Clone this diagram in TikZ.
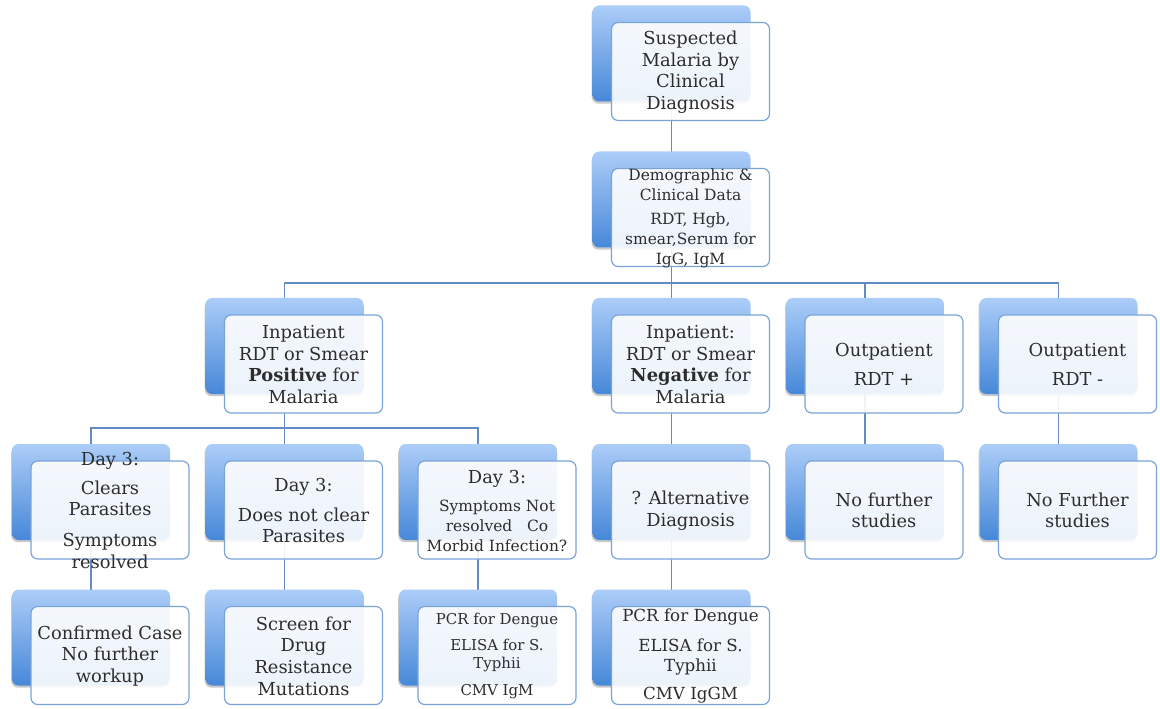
\documentclass[tikz,border=0pt]{standalone}
\usepackage{fontspec}
\setmainfont{DejaVu Serif}
\usetikzlibrary{positioning, backgrounds, shadows}
\definecolor{linkblue}{RGB}{98,138,198}
\definecolor{edgeblue}{RGB}{122,163,218}
\definecolor{toplight}{RGB}{172,205,248}
\definecolor{bottomdark}{RGB}{70,136,216}
\definecolor{inktext}{RGB}{45,45,45}
\newcommand{\cardtext}[1]{\makebox[0pt]{\raisebox{-8pt}{\parbox[c][0pt][c]{135pt}{\centering #1}}}}

\begin{document}
\begin{tikzpicture}[x=0.75pt, y=-0.75pt,
  backbox/.style={rounded corners=5pt, minimum width=118.5pt, minimum height=72pt, inner sep=0pt,
    top color=toplight, bottom color=bottomdark,
    drop shadow={shadow xshift=-0.6pt, shadow yshift=-1.6pt, opacity=0.35, fill=black!60}},
  frontbox/.style={rounded corners=5pt, minimum width=118.5pt, minimum height=73.5pt, inner sep=0pt,
    draw=edgeblue, line width=0.9pt, fill=white, fill opacity=0.9, text opacity=1, text=inktext,
    font=\fontsize{13.4}{16.2}\selectfont},
  link/.style={draw=linkblue, line width=0.9pt}]
  \useasboundingbox (0,0) rectangle (1160,709);

  % Top of the tree
  \node[backbox] (sus-b) at (671.5,53.5) {};
  \node[frontbox] (sus) at (690.5,71.5) {\cardtext{Suspected\\Malaria by\\Clinical\\Diagnosis}};
  \node[backbox] (dem-b) at (671.5,199.5) {};
  \node[frontbox] (dem) at (690.5,217.5) {\cardtext{\fontsize{11.6}{15}\selectfont Demographic \&\\Clinical Data\\[3pt]RDT, Hgb,\\smear,Serum for\\IgG, IgM}};

  % Inpatient / outpatient
  \node[backbox] (pos-b) at (284.5,346) {};
  \node[frontbox] (pos) at (303.5,364) {\cardtext{Inpatient\\RDT or Smear\\\textbf{Positive} for\\Malaria}};
  \node[backbox] (neg-b) at (671.5,346) {};
  \node[frontbox] (neg) at (690.5,364) {\cardtext{Inpatient:\\RDT or Smear\\\textbf{Negative} for\\Malaria}};
  \node[backbox] (outp-b) at (865,346) {};
  \node[frontbox] (outp) at (884,364) {\cardtext{Outpatient\\[6pt]RDT +}};
  \node[backbox] (outm-b) at (1058.5,346) {};
  \node[frontbox] (outm) at (1077.5,364) {\cardtext{Outpatient\\[6pt]RDT -}};

  % Day 3 and follow up
  \node[backbox] (clr-b) at (91,492) {};
  \node[frontbox] (clr) at (110,510) {\cardtext{Day 3:\\[5pt]Clears\\Parasites\\[7pt]Symptoms\\resolved}};
  \node[backbox] (ncl-b) at (284.5,492) {};
  \node[frontbox] (ncl) at (303.5,510) {\cardtext{Day 3:\\[6pt]Does not clear\\Parasites}};
  \node[backbox] (sym-b) at (478,492) {};
  \node[frontbox] (sym) at (497,510) {\cardtext{\fontsize{11.6}{15}\selectfont{\fontsize{13.4}{16}\selectfont Day 3:}\\[6pt]Symptoms Not\\resolved~~~Co\\Morbid Infection?}};
  \node[backbox] (alt-b) at (671.5,492) {};
  \node[frontbox] (alt) at (690.5,510) {\cardtext{? Alternative\\Diagnosis}};
  \node[backbox] (nfa-b) at (865,492) {};
  \node[frontbox] (nfa) at (884,510) {\cardtext{No further\\studies}};
  \node[backbox] (nfb-b) at (1058.5,492) {};
  \node[frontbox] (nfb) at (1077.5,510) {\cardtext{No Further\\studies}};

  % Bottom row
  \node[backbox] (conf-b) at (91,637.5) {};
  \node[frontbox] (conf) at (110,655.5) {\cardtext{Confirmed Case\\No further\\workup}};
  \node[backbox] (scr-b) at (284.5,637.5) {};
  \node[frontbox] (scr) at (303.5,655.5) {\cardtext{Screen for\\Drug\\Resistance\\Mutations}};
  \node[backbox] (pcra-b) at (478,637.5) {};
  \node[frontbox] (pcra) at (497,655.5) {\cardtext{\fontsize{11.2}{13.5}\selectfont PCR for Dengue\\[6pt]ELISA for S.\\Typhii\\[6.5pt]CMV IgM}};
  \node[backbox] (pcrb-b) at (671.5,637.5) {};
  \node[frontbox] (pcrb) at (690.5,655.5) {\cardtext{\fontsize{12.5}{15}\selectfont PCR for Dengue\\[7.5pt]ELISA for S.\\Typhii\\[6pt]CMV IgGM}};

  % Connectors
  \begin{pgfonlayer}{background}
    \coordinate (busa) at (0,283);
    \coordinate (busb) at (0,428);
    \draw[link] (sus-b.center) -- (dem-b.center);
    \foreach \n in {pos,neg,outp,outm}
      \draw[link] (dem-b.center) -- (dem-b.center |- busa) -| (\n-b.center);
    \foreach \n in {clr,ncl,sym}
      \draw[link] (pos-b.center) -- (pos-b.center |- busb) -| (\n-b.center);
    \draw[link] (neg-b.center) -- (alt-b.center);
    \draw[link] (outp-b.center) -- (nfa-b.center);
    \draw[link] (outm-b.center) -- (nfb-b.center);
    \draw[link] (clr-b.center) -- (conf-b.center);
    \draw[link] (ncl-b.center) -- (scr-b.center);
    \draw[link] (sym-b.center) -- (pcra-b.center);
    \draw[link] (alt-b.center) -- (pcrb-b.center);
  \end{pgfonlayer}
\end{tikzpicture}
\end{document}
